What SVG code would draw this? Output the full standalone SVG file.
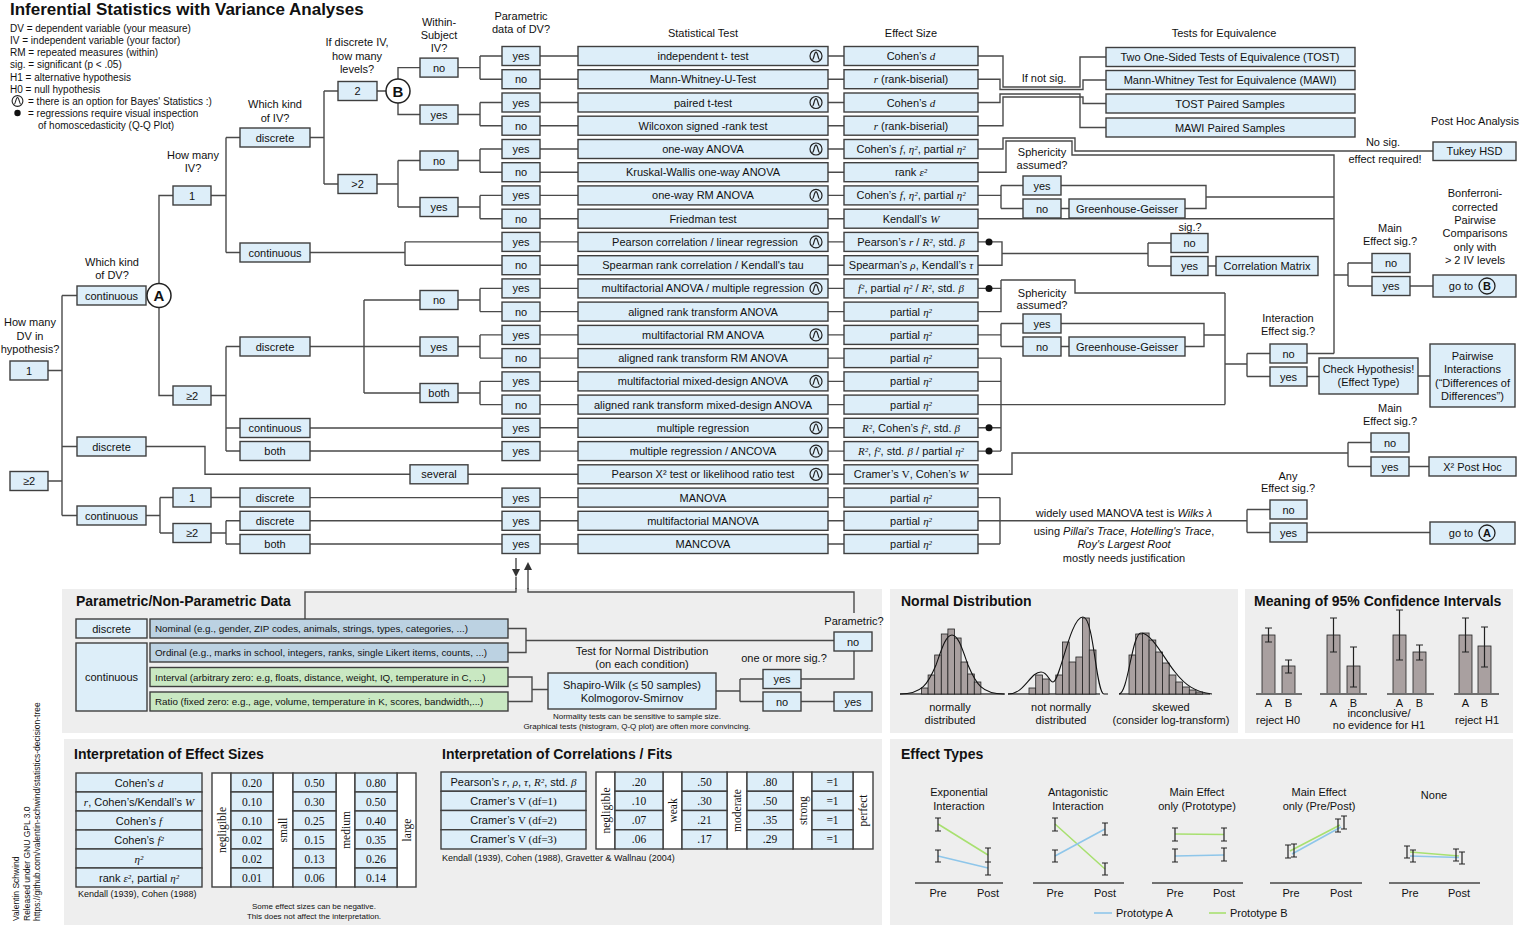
<svg xmlns="http://www.w3.org/2000/svg" width="1520" height="926" viewBox="0 0 1520 926">
<defs>
<style>
text{font-family:"Liberation Sans",Arial,sans-serif;fill:#111}
.t{font-size:11px;text-anchor:middle}
.l{font-size:10px}
.b{fill:#ddeef9;stroke:#3f3f3f;stroke-width:1.4}
.w{fill:#fff;stroke:#3f3f3f;stroke-width:1.4}
.nb{fill:#bcd2e2;stroke:#3f3f3f;stroke-width:1.4}
.gr{fill:#c9e8c2;stroke:#3f3f3f;stroke-width:1.4}
.c{fill:none;stroke:#4a4a4a;stroke-width:1.4}
.m{font-family:"Liberation Serif","Times New Roman",serif;font-style:italic}
.r,.r text{font-family:"Liberation Serif","Times New Roman",serif}
.h{font-size:14px;font-weight:bold}
.p{fill:#eeeeee}
.bar{fill:#a9a0a0;stroke:#222;stroke-width:0.8}
.ax{stroke:#707070;stroke-width:2;fill:none}
.eb{stroke:#222;stroke-width:1.2;fill:none}
.ga{stroke:#8ec6ea;stroke-width:1.6;fill:none}
.gb{stroke:#a8e070;stroke-width:1.6;fill:none}
.cv{fill:none;stroke:#111;stroke-width:1.1}
.s9{font-size:9.8px}
.cir{fill:#fff;stroke:#222;stroke-width:1.5}
.dot{fill:#111}
</style>
<g id="bay"><circle r="6" fill="none" stroke="#222" stroke-width="1.2"/><path d="M-3.6 3.6C-2.2 3.6-1.8-3.8 0-3.8S2.2 3.6 3.6 3.6" fill="none" stroke="#222" stroke-width="1.2"/></g>
</defs>
<rect width="1520" height="926" fill="#fff"/>

<g id="legend">
<text x="10" y="15" style="font-size:17px;font-weight:bold">Inferential Statistics with Variance Analyses</text>
<text class="l" x="10" y="32">DV = dependent variable (your measure)</text>
<text class="l" x="10" y="44">IV = independent variable (your factor)</text>
<text class="l" x="10" y="56">RM = repeated measures (within)</text>
<text class="l" x="10" y="68">sig. = significant (p &lt; .05)</text>
<text class="l" x="10" y="81">H1 = alternative hypothesis</text>
<text class="l" x="10" y="93">H0 = null hypothesis</text>
<use href="#bay" transform="translate(17.5 101) scale(0.9)"/>
<text class="l" x="28" y="105">= there is an option for Bayes' Statistics :)</text>
<circle class="dot" cx="17.5" cy="113" r="3.2"/>
<text class="l" x="28" y="117">= regressions require visual inspection</text>
<text class="l" x="38" y="129">of homoscedasticity (Q-Q Plot)</text>
</g>

<g id="credit" style="font-size:8.5px">
<text transform="translate(19 921) rotate(-90)">Valentin Schwind</text>
<text transform="translate(29.5 921) rotate(-90)">Released under GNU GPL 3.0</text>
<text transform="translate(40 921) rotate(-90)">https://github.com/valentin-schwind/statistics-decision-tree</text>
</g>

<g id="questions">
<text class="t" x="30" y="326">How many</text><text class="t" x="30" y="340">DV in</text><text class="t" x="30" y="353">hypothesis?</text>
<text class="t" x="112" y="266">Which kind</text><text class="t" x="112" y="279">of DV?</text>
<text class="t" x="193" y="159">How many</text><text class="t" x="193" y="172">IV?</text>
<text class="t" x="275" y="108">Which kind</text><text class="t" x="275" y="122">of IV?</text>
<text class="t" x="357" y="46">If discrete IV,</text><text class="t" x="357" y="60">how many</text><text class="t" x="357" y="73">levels?</text>
<text class="t" x="439" y="26">Within-</text><text class="t" x="439" y="39">Subject</text><text class="t" x="439" y="52">IV?</text>
<text class="t" x="521" y="20">Parametric</text><text class="t" x="521" y="33">data of DV?</text>
<text class="t" x="703" y="37">Statistical Test</text>
<text class="t" x="911" y="37">Effect Size</text>
<text class="t" x="1224" y="37">Tests for Equivalence</text>
<text class="t" x="1044" y="82">If not sig.</text>
<text class="t" x="1475" y="125">Post Hoc Analysis</text>
<text class="t" x="1383" y="146">No sig.</text><text class="t" x="1385" y="163">effect required!</text>
<text class="t" x="1042" y="156">Sphericity</text><text class="t" x="1042" y="169">assumed?</text>
<text class="t" x="1190" y="231">sig.?</text>
<text class="t" x="1390" y="232">Main</text><text class="t" x="1390" y="245">Effect sig.?</text>
<text class="t" x="1475" y="197">Bonferroni-</text><text class="t" x="1475" y="211">corrected</text><text class="t" x="1475" y="224">Pairwise</text><text class="t" x="1475" y="237">Comparisons</text><text class="t" x="1475" y="251">only with</text><text class="t" x="1475" y="264">&gt; 2 IV levels</text>
<text class="t" x="1042" y="297">Sphericity</text><text class="t" x="1042" y="309">assumed?</text>
<text class="t" x="1288" y="322">Interaction</text><text class="t" x="1288" y="335">Effect sig.?</text>
<text class="t" x="1390" y="412">Main</text><text class="t" x="1390" y="425">Effect sig.?</text>
<text class="t" x="1288" y="480">Any</text><text class="t" x="1288" y="492">Effect sig.?</text>
<text class="t" x="1124" y="517">widely used MANOVA test is <tspan font-style="italic">Wilks λ</tspan></text>
<text class="t" x="1124" y="535">using <tspan font-style="italic">Pillai's Trace</tspan>, <tspan font-style="italic">Hotelling's Trace</tspan>,</text>
<text class="t" x="1124" y="548" font-style="italic">Roy's Largest Root</text>
<text class="t" x="1124" y="562">mostly needs justification</text>
</g>

<g id="connectors" class="c">
<path d="M48 370.5H62M62 295.5V515.5M62 295.5H77M62 446.5H77M62 515.5H77M48 481H62"/>
<path d="M159 283.5V195.5H173M159 307.5V395.5H173"/>
<path d="M211 195.5H226M226 137.5V252.5M226 137.5H240M226 252.5H240"/>
<path d="M310 137.5H324M324 91V184M324 91H338M324 184H338M377 91H386"/>
<path d="M398 79V67.6H420M398 103V114.5H420M377 184H398M398 160.5V207M398 160.5H420M398 207H420"/>
<path d="M458 67.6H480M480 56V79.2M480 56H502M480 79.2H502"/>
<path d="M458 114.5H480M480 102.5V125.7M480 102.5H502M480 125.7H502"/>
<path d="M458 160.5H480M480 149V172.2M480 149H502M480 172.2H502"/>
<path d="M458 207H480M480 195.4V218.7M480 195.4H502M480 218.7H502"/>
<path d="M310 252.5H405M405 241.9V265.2M405 241.9H502M405 265.2H502"/>
<path d="M211 395.5H226M226 346.5V451M226 346.5H240M226 428H240M226 451H240"/>
<path d="M310 346.5H420M364 300V393M364 300H420M364 393H420"/>
<path d="M458 300H480M480 288.4V311.6M480 288.4H502M480 311.6H502"/>
<path d="M458 346.5H480M480 334.9V358.1M480 334.9H502M480 358.1H502"/>
<path d="M458 393H480M480 381.4V404.6M480 381.4H502M480 404.6H502"/>
<path d="M310 428H502M310 451H502"/>
<path d="M146 446.5H205V474.3H410M468 474.3H578"/>
<path d="M146 515.5H160M160 497.5V533M160 497.5H173M160 533H173M211 497.5H240M310 497.6H502"/>
<path d="M211 533H226M226 520.8V544M226 520.8H240M226 544H240M310 520.8H502M310 544H502"/>
<path d="M540 56H578M540 79.2H578M540 102.5H578M540 125.7H578M540 149H578M540 172.2H578M540 195.4H578M540 218.7H578M540 241.9H578M540 265.2H578M540 288.4H578M540 311.6H578M540 334.9H578M540 358.1H578M540 381.4H578M540 404.6H578M540 427.8H578M540 451.1H578M540 497.6H578M540 520.8H578M540 544H578"/>
<path d="M828 56H844M828 79.2H844M828 102.5H844M828 125.7H844M828 149H844M828 172.2H844M828 195.4H844M828 218.7H844M828 241.9H844M828 265.2H844M828 288.4H844M828 311.6H844M828 334.9H844M828 358.1H844M828 381.4H844M828 404.6H844M828 427.8H844M828 451.1H844M828 474.3H844M828 497.6H844M828 520.8H844M828 544H844"/>
<path d="M978 56H1003V87H1080V57H1106M978 79.2H1000V89.5H1083V80H1106M978 102.5H1000V94H1080V127.5H1106M978 125.7H1003V97H1083V103.5H1106"/>
<path d="M978 149H1003V138H1075V151H1433M978 172.2H1006V141H1072V155H1334V353.5"/>
<path d="M978 195.4H1001M1001 185.5V208.5M1001 185.5H1023M1001 208.5H1023M1061 185.5H1206V208.5H1185M1061 208.5H1069M1206 197H1334M978 218.7H1334"/>
<path d="M1334 275H1348M1348 263V286M1348 263H1372M1348 286H1372M1410 286H1433"/>
<path d="M978 241.9H1002V265.2H978M1002 253.5H1148M1148 243V266M1148 243H1171M1148 266H1171M1208 266H1216"/>
<path d="M978 288.4H1001M1001 280V311.6H978M1001 280H1075V293H1225"/>
<path d="M978 334.9H1001M1001 323.5V346.5M1001 323.5H1023M1001 346.5H1023M1061 323.5H1204V346.5H1185M1061 346.5H1069M1204 335H1225"/>
<path d="M978 358.1H1001M978 381.4H1001M978 404.6H1225M978 427.8H1001M978 451.1H1001M1001 358.1V451.1"/>
<path d="M1225 293V404.6M1225 364H1247M1247 353.5V376.5M1247 353.5H1270M1247 376.5H1270M1307 353.5H1334M1307 376.5H1319M1418 376H1430"/>
<path d="M978 474.3H1012V453H1348M1348 442.5V466.5M1348 442.5H1371M1348 466.5H1371M1409 466.5H1429"/>
<path d="M978 497.6H1000M978 520.8H1247M978 544H1000M1000 497.6V544M1247 509.5V532.5M1247 509.5H1270M1247 532.5H1270M1307 532.5H1430"/>
<path d="M516 558V569M516 577V592M528 570V592"/>
<polygon points="512,569 520,569 516,577" fill="#333" stroke="none"/>
<polygon points="524,570 532,570 528,562" fill="#333" stroke="none"/>
<circle class="dot" cx="989" cy="241.9" r="3.5" stroke="none"/>
<circle class="dot" cx="989" cy="288.4" r="3.5" stroke="none"/>
<circle class="dot" cx="989" cy="427.8" r="3.5" stroke="none"/>
<circle class="dot" cx="989" cy="451.1" r="3.5" stroke="none"/>
</g>

<g id="dv1"><rect class="b" x="10" y="361" width="38" height="19"/><text class="t" x="29" y="374.5">1</text></g>
<g id="dv2"><rect class="b" x="10" y="471.5" width="38" height="19"/><text class="t" x="29" y="485">≥2</text></g>
<g id="dvcont"><rect class="b" x="77" y="286" width="69" height="19"/><text class="t" x="111.5" y="299.5">continuous</text></g>
<g id="nodeA"><circle class="cir" cx="159" cy="295.5" r="12"/><text x="159" y="301" style="font-size:15px;font-weight:bold;text-anchor:middle">A</text></g>
<g id="dvdisc"><rect class="b" x="77" y="437" width="69" height="19"/><text class="t" x="111.5" y="450.5">discrete</text></g>
<g id="dvcont2"><rect class="b" x="77" y="506" width="69" height="19"/><text class="t" x="111.5" y="519.5">continuous</text></g>
<g id="iv1"><rect class="b" x="173" y="186" width="38" height="19"/><text class="t" x="192" y="199.5">1</text></g>
<g id="iv2"><rect class="b" x="173" y="386" width="38" height="19"/><text class="t" x="192" y="399.5">≥2</text></g>
<g id="iv1b"><rect class="b" x="173" y="488" width="38" height="19"/><text class="t" x="192" y="501.5">1</text></g>
<g id="iv2b"><rect class="b" x="173" y="523.5" width="38" height="19"/><text class="t" x="192" y="537">≥2</text></g>
<g id="k1"><rect class="b" x="240" y="128" width="70" height="19"/><text class="t" x="275" y="141.5">discrete</text></g>
<g id="k2"><rect class="b" x="240" y="243" width="70" height="19"/><text class="t" x="275" y="256.5">continuous</text></g>
<g id="k3"><rect class="b" x="240" y="337" width="70" height="19"/><text class="t" x="275" y="350.5">discrete</text></g>
<g id="k4"><rect class="b" x="240" y="418.5" width="70" height="19"/><text class="t" x="275" y="432">continuous</text></g>
<g id="k5"><rect class="b" x="240" y="441.5" width="70" height="19"/><text class="t" x="275" y="455">both</text></g>
<g id="k6"><rect class="b" x="240" y="488" width="70" height="19"/><text class="t" x="275" y="501.5">discrete</text></g>
<g id="k7"><rect class="b" x="240" y="511.3" width="70" height="19"/><text class="t" x="275" y="524.8">discrete</text></g>
<g id="k8"><rect class="b" x="240" y="534.5" width="70" height="19"/><text class="t" x="275" y="548">both</text></g>
<g id="lv2"><rect class="b" x="338" y="81.5" width="39" height="19"/><text class="t" x="357.5" y="95">2</text></g>
<g id="lv3"><rect class="b" x="338" y="174.5" width="39" height="19"/><text class="t" x="357.5" y="188">&gt;2</text></g>
<g id="nodeB"><circle class="cir" cx="398" cy="91" r="12"/><text x="398" y="96.5" style="font-size:15px;font-weight:bold;text-anchor:middle">B</text></g>
<g id="ws1"><rect class="b" x="420" y="58.1" width="38" height="19"/><text class="t" x="439" y="71.6">no</text></g>
<g id="ws2"><rect class="b" x="420" y="105" width="38" height="19"/><text class="t" x="439" y="118.5">yes</text></g>
<g id="ws3"><rect class="b" x="420" y="151" width="38" height="19"/><text class="t" x="439" y="164.5">no</text></g>
<g id="ws4"><rect class="b" x="420" y="197.5" width="38" height="19"/><text class="t" x="439" y="211">yes</text></g>
<g id="ws5"><rect class="b" x="420" y="290.5" width="38" height="19"/><text class="t" x="439" y="304">no</text></g>
<g id="ws6"><rect class="b" x="420" y="337" width="38" height="19"/><text class="t" x="439" y="350.5">yes</text></g>
<g id="ws7"><rect class="b" x="420" y="383.5" width="38" height="19"/><text class="t" x="439" y="397">both</text></g>
<g id="several"><rect class="b" x="410" y="464.8" width="58" height="19"/><text class="t" x="439" y="478.3">several</text></g>

<g id="pd0"><rect class="b" x="502" y="46.5" width="38" height="19"/><text class="t" x="521" y="60">yes</text></g>
<g id="pd1"><rect class="b" x="502" y="69.7" width="38" height="19"/><text class="t" x="521" y="83.2">no</text></g>
<g id="pd2"><rect class="b" x="502" y="93" width="38" height="19"/><text class="t" x="521" y="106.5">yes</text></g>
<g id="pd3"><rect class="b" x="502" y="116.2" width="38" height="19"/><text class="t" x="521" y="129.7">no</text></g>
<g id="pd4"><rect class="b" x="502" y="139.5" width="38" height="19"/><text class="t" x="521" y="153">yes</text></g>
<g id="pd5"><rect class="b" x="502" y="162.7" width="38" height="19"/><text class="t" x="521" y="176.2">no</text></g>
<g id="pd6"><rect class="b" x="502" y="185.9" width="38" height="19"/><text class="t" x="521" y="199.4">yes</text></g>
<g id="pd7"><rect class="b" x="502" y="209.2" width="38" height="19"/><text class="t" x="521" y="222.7">no</text></g>
<g id="pd8"><rect class="b" x="502" y="232.4" width="38" height="19"/><text class="t" x="521" y="245.9">yes</text></g>
<g id="pd9"><rect class="b" x="502" y="255.7" width="38" height="19"/><text class="t" x="521" y="269.2">no</text></g>
<g id="pd10"><rect class="b" x="502" y="278.9" width="38" height="19"/><text class="t" x="521" y="292.4">yes</text></g>
<g id="pd11"><rect class="b" x="502" y="302.1" width="38" height="19"/><text class="t" x="521" y="315.6">no</text></g>
<g id="pd12"><rect class="b" x="502" y="325.4" width="38" height="19"/><text class="t" x="521" y="338.9">yes</text></g>
<g id="pd13"><rect class="b" x="502" y="348.6" width="38" height="19"/><text class="t" x="521" y="362.1">no</text></g>
<g id="pd14"><rect class="b" x="502" y="371.9" width="38" height="19"/><text class="t" x="521" y="385.4">yes</text></g>
<g id="pd15"><rect class="b" x="502" y="395.1" width="38" height="19"/><text class="t" x="521" y="408.6">no</text></g>
<g id="pd16"><rect class="b" x="502" y="418.3" width="38" height="19"/><text class="t" x="521" y="431.8">yes</text></g>
<g id="pd17"><rect class="b" x="502" y="441.6" width="38" height="19"/><text class="t" x="521" y="455.1">yes</text></g>
<g id="pd19"><rect class="b" x="502" y="488.1" width="38" height="19"/><text class="t" x="521" y="501.6">yes</text></g>
<g id="pd20"><rect class="b" x="502" y="511.3" width="38" height="19"/><text class="t" x="521" y="524.8">yes</text></g>
<g id="pd21"><rect class="b" x="502" y="534.5" width="38" height="19"/><text class="t" x="521" y="548">yes</text></g>

<g id="st0"><rect class="b" x="578" y="46.5" width="250" height="19"/><text class="t" x="703" y="60">independent t- test</text><use href="#bay" x="816" y="56"/></g>
<g id="st1"><rect class="b" x="578" y="69.7" width="250" height="19"/><text class="t" x="703" y="83.2">Mann-Whitney-U-Test</text></g>
<g id="st2"><rect class="b" x="578" y="93" width="250" height="19"/><text class="t" x="703" y="106.5">paired t-test</text><use href="#bay" x="816" y="102.5"/></g>
<g id="st3"><rect class="b" x="578" y="116.2" width="250" height="19"/><text class="t" x="703" y="129.7">Wilcoxon signed -rank test</text></g>
<g id="st4"><rect class="b" x="578" y="139.5" width="250" height="19"/><text class="t" x="703" y="153">one-way ANOVA</text><use href="#bay" x="816" y="149"/></g>
<g id="st5"><rect class="b" x="578" y="162.7" width="250" height="19"/><text class="t" x="703" y="176.2">Kruskal-Wallis one-way ANOVA</text></g>
<g id="st6"><rect class="b" x="578" y="185.9" width="250" height="19"/><text class="t" x="703" y="199.4">one-way RM ANOVA</text><use href="#bay" x="816" y="195.4"/></g>
<g id="st7"><rect class="b" x="578" y="209.2" width="250" height="19"/><text class="t" x="703" y="222.7">Friedman test</text></g>
<g id="st8"><rect class="b" x="578" y="232.4" width="250" height="19"/><text class="t" x="705" y="245.9">Pearson correlation / linear regression</text><use href="#bay" x="816" y="241.9"/></g>
<g id="st9"><rect class="b" x="578" y="255.7" width="250" height="19"/><text class="t" x="703" y="269.2">Spearman rank correlation / Kendall's tau</text></g>
<g id="st10"><rect class="b" x="578" y="278.9" width="250" height="19"/><text class="t" x="703" y="292.4">multifactorial ANOVA / multiple regression</text><use href="#bay" x="816" y="288.4"/></g>
<g id="st11"><rect class="b" x="578" y="302.1" width="250" height="19"/><text class="t" x="703" y="315.6">aligned rank transform ANOVA</text></g>
<g id="st12"><rect class="b" x="578" y="325.4" width="250" height="19"/><text class="t" x="703" y="338.9">multifactorial RM ANOVA</text><use href="#bay" x="816" y="334.9"/></g>
<g id="st13"><rect class="b" x="578" y="348.6" width="250" height="19"/><text class="t" x="703" y="362.1">aligned rank transform RM ANOVA</text></g>
<g id="st14"><rect class="b" x="578" y="371.9" width="250" height="19"/><text class="t" x="703" y="385.4">multifactorial mixed-design ANOVA</text><use href="#bay" x="816" y="381.4"/></g>
<g id="st15"><rect class="b" x="578" y="395.1" width="250" height="19"/><text class="t" x="703" y="408.6">aligned rank transform mixed-design ANOVA</text></g>
<g id="st16"><rect class="b" x="578" y="418.3" width="250" height="19"/><text class="t" x="703" y="431.8">multiple regression</text><use href="#bay" x="816" y="427.8"/></g>
<g id="st17"><rect class="b" x="578" y="441.6" width="250" height="19"/><text class="t" x="703" y="455.1">multiple regression / ANCOVA</text><use href="#bay" x="816" y="451.1"/></g>
<g id="st18"><rect class="b" x="578" y="464.8" width="250" height="19"/><text class="t" x="703" y="478.3">Pearson X² test or likelihood ratio test</text><use href="#bay" x="816" y="474.3"/></g>
<g id="st19"><rect class="b" x="578" y="488.1" width="250" height="19"/><text class="t" x="703" y="501.6">MANOVA</text></g>
<g id="st20"><rect class="b" x="578" y="511.3" width="250" height="19"/><text class="t" x="703" y="524.8">multifactorial MANOVA</text></g>
<g id="st21"><rect class="b" x="578" y="534.5" width="250" height="19"/><text class="t" x="703" y="548">MANCOVA</text></g>

<g id="es0"><rect class="b" x="844" y="46.5" width="134" height="19"/><text class="t" x="911" y="60">Cohen’s <tspan class="m">d</tspan></text></g>
<g id="es1"><rect class="b" x="844" y="69.7" width="134" height="19"/><text class="t" x="911" y="83.2"><tspan class="m">r</tspan> (rank-biserial)</text></g>
<g id="es2"><rect class="b" x="844" y="93" width="134" height="19"/><text class="t" x="911" y="106.5">Cohen’s <tspan class="m">d</tspan></text></g>
<g id="es3"><rect class="b" x="844" y="116.2" width="134" height="19"/><text class="t" x="911" y="129.7"><tspan class="m">r</tspan> (rank-biserial)</text></g>
<g id="es4"><rect class="b" x="844" y="139.5" width="134" height="19"/><text class="t" x="911" y="153">Cohen’s <tspan class="m">f</tspan>, <tspan class="m">η²</tspan>, partial <tspan class="m">η²</tspan></text></g>
<g id="es5"><rect class="b" x="844" y="162.7" width="134" height="19"/><text class="t" x="911" y="176.2">rank <tspan class="m">ε²</tspan></text></g>
<g id="es6"><rect class="b" x="844" y="185.9" width="134" height="19"/><text class="t" x="911" y="199.4">Cohen’s <tspan class="m">f</tspan>, <tspan class="m">η²</tspan>, partial <tspan class="m">η²</tspan></text></g>
<g id="es7"><rect class="b" x="844" y="209.2" width="134" height="19"/><text class="t" x="911" y="222.7">Kendall’s <tspan class="m">W</tspan></text></g>
<g id="es8"><rect class="b" x="844" y="232.4" width="134" height="19"/><text class="t" x="911" y="245.9">Pearson’s <tspan class="m">r</tspan> / <tspan class="m">R²</tspan>, std. <tspan class="m">β</tspan></text></g>
<g id="es9"><rect class="b" x="844" y="255.7" width="134" height="19"/><text class="t" x="911" y="269.2">Spearman’s <tspan class="m">ρ</tspan>, Kendall’s <tspan class="m">τ</tspan></text></g>
<g id="es10"><rect class="b" x="844" y="278.9" width="134" height="19"/><text class="t" x="911" y="292.4"><tspan class="m">f²</tspan>, partial <tspan class="m">η²</tspan> / <tspan class="m">R²</tspan>, std. <tspan class="m">β</tspan></text></g>
<g id="es11"><rect class="b" x="844" y="302.1" width="134" height="19"/><text class="t" x="911" y="315.6">partial <tspan class="m">η²</tspan></text></g>
<g id="es12"><rect class="b" x="844" y="325.4" width="134" height="19"/><text class="t" x="911" y="338.9">partial <tspan class="m">η²</tspan></text></g>
<g id="es13"><rect class="b" x="844" y="348.6" width="134" height="19"/><text class="t" x="911" y="362.1">partial <tspan class="m">η²</tspan></text></g>
<g id="es14"><rect class="b" x="844" y="371.9" width="134" height="19"/><text class="t" x="911" y="385.4">partial <tspan class="m">η²</tspan></text></g>
<g id="es15"><rect class="b" x="844" y="395.1" width="134" height="19"/><text class="t" x="911" y="408.6">partial <tspan class="m">η²</tspan></text></g>
<g id="es16"><rect class="b" x="844" y="418.3" width="134" height="19"/><text class="t" x="911" y="431.8"><tspan class="m">R²</tspan>, Cohen’s <tspan class="m">f²</tspan>, std. <tspan class="m">β</tspan></text></g>
<g id="es17"><rect class="b" x="844" y="441.6" width="134" height="19"/><text class="t" x="911" y="455.1"><tspan class="m">R²</tspan>, <tspan class="m">f²</tspan>, std. <tspan class="m">β</tspan> / partial <tspan class="m">η²</tspan></text></g>
<g id="es18"><rect class="b" x="844" y="464.8" width="134" height="19"/><text class="t" x="911" y="478.3">Cramer’s <tspan class="r">V</tspan>, Cohen’s <tspan class="m">W</tspan></text></g>
<g id="es19"><rect class="b" x="844" y="488.1" width="134" height="19"/><text class="t" x="911" y="501.6">partial <tspan class="m">η²</tspan></text></g>
<g id="es20"><rect class="b" x="844" y="511.3" width="134" height="19"/><text class="t" x="911" y="524.8">partial <tspan class="m">η²</tspan></text></g>
<g id="es21"><rect class="b" x="844" y="534.5" width="134" height="19"/><text class="t" x="911" y="548">partial <tspan class="m">η²</tspan></text></g>

<g id="tost"><rect class="b" x="1106" y="47.5" width="249" height="19"/><text class="t" x="1230" y="61">Two One-Sided Tests of Equivalence (TOST)</text></g>
<g id="mawi"><rect class="b" x="1106" y="70.5" width="249" height="19"/><text class="t" x="1230" y="84">Mann-Whitney Test for Equivalence (MAWI)</text></g>
<g id="tostp"><rect class="b" x="1106" y="94" width="249" height="19"/><text class="t" x="1230" y="107.5">TOST Paired Samples</text></g>
<g id="mawip"><rect class="b" x="1106" y="118" width="249" height="19"/><text class="t" x="1230" y="131.5">MAWI Paired Samples</text></g>
<g id="tukey"><rect class="b" x="1433" y="142" width="83" height="18.5"/><text class="t" x="1474.5" y="155">Tukey HSD</text></g>
<g id="sph1y"><rect class="b" x="1023" y="176" width="38" height="19"/><text class="t" x="1042" y="189.5">yes</text></g>
<g id="sph1n"><rect class="b" x="1023" y="199" width="38" height="19"/><text class="t" x="1042" y="212.5">no</text></g>
<g id="gg1"><rect class="b" x="1069" y="199" width="116" height="19"/><text class="t" x="1127" y="212.5">Greenhouse-Geisser</text></g>
<g id="sign"><rect class="b" x="1171" y="233.5" width="37" height="19"/><text class="t" x="1189.5" y="247">no</text></g>
<g id="sigy"><rect class="b" x="1171" y="256.5" width="37" height="19"/><text class="t" x="1189.5" y="270">yes</text></g>
<g id="corrm"><rect class="b" x="1216" y="256.5" width="102" height="19"/><text class="t" x="1267" y="270">Correlation Matrix</text></g>
<g id="me1n"><rect class="b" x="1372" y="253.5" width="38" height="19"/><text class="t" x="1391" y="267">no</text></g>
<g id="me1y"><rect class="b" x="1372" y="276.5" width="38" height="19"/><text class="t" x="1391" y="290">yes</text></g>
<g id="gotoB"><rect class="b" x="1433" y="275" width="83" height="22"/><text class="t" x="1461" y="290">go to</text><circle cx="1487" cy="286" r="8" fill="none" stroke="#222" stroke-width="1.3"/><text x="1487" y="290" style="font-size:11px;font-weight:bold;text-anchor:middle">B</text></g>
<g id="sph2y"><rect class="b" x="1023" y="314" width="38" height="19"/><text class="t" x="1042" y="327.5">yes</text></g>
<g id="sph2n"><rect class="b" x="1023" y="337" width="38" height="19"/><text class="t" x="1042" y="350.5">no</text></g>
<g id="gg2"><rect class="b" x="1069" y="337" width="116" height="19"/><text class="t" x="1127" y="350.5">Greenhouse-Geisser</text></g>
<g id="intn"><rect class="b" x="1270" y="344" width="37" height="19"/><text class="t" x="1288.5" y="357.5">no</text></g>
<g id="inty"><rect class="b" x="1270" y="367" width="37" height="19"/><text class="t" x="1288.5" y="380.5">yes</text></g>
<g id="check"><rect class="b" x="1319" y="358" width="99" height="36"/><text class="t" x="1368.5" y="373">Check Hypothesis!</text><text class="t" x="1368.5" y="386">(Effect Type)</text></g>
<g id="pairwise"><rect class="b" x="1430" y="344" width="85" height="63"/><text class="t" x="1472.5" y="360">Pairwise</text><text class="t" x="1472.5" y="373">Interactions</text><text class="t" x="1472.5" y="387">(“Differences of</text><text class="t" x="1472.5" y="400">Differences”)</text></g>
<g id="me2n"><rect class="b" x="1371" y="433" width="38" height="19"/><text class="t" x="1390" y="446.5">no</text></g>
<g id="me2y"><rect class="b" x="1371" y="457" width="38" height="19"/><text class="t" x="1390" y="470.5">yes</text></g>
<g id="x2ph"><rect class="b" x="1429" y="457" width="87" height="19"/><text class="t" x="1472.5" y="470.5">X² Post Hoc</text></g>
<g id="anyn"><rect class="b" x="1270" y="500" width="37" height="19"/><text class="t" x="1288.5" y="513.5">no</text></g>
<g id="anyy"><rect class="b" x="1270" y="523" width="37" height="19"/><text class="t" x="1288.5" y="536.5">yes</text></g>
<g id="gotoA"><rect class="b" x="1430" y="522" width="85" height="22"/><text class="t" x="1461" y="537">go to</text><circle cx="1487" cy="533" r="8" fill="none" stroke="#222" stroke-width="1.3"/><text x="1487" y="537" style="font-size:11px;font-weight:bold;text-anchor:middle">A</text></g>

<g id="panels">
<rect class="p" x="62" y="589" width="820" height="144"/>
<rect class="p" x="890" y="589" width="348" height="144"/>
<rect class="p" x="1245" y="589" width="268" height="144"/>
<rect class="p" x="64" y="739" width="818" height="186"/>
<rect class="p" x="890" y="739" width="623" height="186"/>
</g>
<g id="panel-connectors" class="c">
<path d="M516 588V592H305V619M528 588V592H854V613"/>
<path d="M508 628.5H526V652.5H508M526 640.5H834M508 677H532V701.5H508M532 689.5H548"/>
<path d="M716 691H740M740 679V701.5M740 679H763M740 701.5H763M801 679H854V650.5M801 701.5H834"/>
</g>

<g id="param-panel">
<text class="h" x="76" y="606">Parametric/Non-Parametric Data</text>
<g id="pdisc"><rect class="b" x="76" y="619" width="71" height="19"/><text class="t" x="111.5" y="632.5">discrete</text></g>
<g id="pcont"><rect class="b" x="76" y="643" width="71" height="68"/><text class="t" x="111.5" y="681">continuous</text></g>
<g id="nominal"><rect class="nb" x="150" y="619" width="358" height="19"/><text class="s9" x="155" y="632">Nominal (e.g., gender, ZIP codes, animals, strings, types, categories, ...)</text></g>
<g id="ordinal"><rect class="nb" x="150" y="643" width="358" height="19"/><text class="s9" x="155" y="656">Ordinal (e.g., marks in school, integers, ranks, single Likert items, counts, ...)</text></g>
<g id="interval"><rect class="gr" x="150" y="667.5" width="358" height="19"/><text class="s9" x="155" y="680.5">Interval (arbitrary zero: e.g, floats, distance, weight, IQ, temperature in C, ...)</text></g>
<g id="ratio"><rect class="gr" x="150" y="692" width="358" height="19"/><text class="s9" x="155" y="705">Ratio (fixed zero: e.g., age, volume, temperature in K, scores, bandwidth,...)</text></g>
<text class="t" x="642" y="655">Test for Normal Distribution</text>
<text class="t" x="642" y="668">(on each condition)</text>
<g id="sw"><rect class="b" x="548" y="673" width="168" height="36"/><text class="t" x="632" y="689">Shapiro-Wilk (≤ 50 samples)</text><text class="t" x="632" y="702">Kolmogorov-Smirnov</text></g>
<text x="637" y="718.5" style="font-size:8px;text-anchor:middle">Normality tests can be sensitive to sample size.</text>
<text x="637" y="729" style="font-size:8px;text-anchor:middle">Graphical tests (histogram, Q-Q plot) are often more convincing.</text>
<text class="t" x="784" y="662">one or more sig.?</text>
<text class="t" x="854" y="625">Parametric?</text>
<g id="nsy"><rect class="b" x="763" y="669.5" width="38" height="19"/><text class="t" x="782" y="683">yes</text></g>
<g id="nsn"><rect class="b" x="763" y="692" width="38" height="19"/><text class="t" x="782" y="705.5">no</text></g>
<g id="parn"><rect class="b" x="834" y="632" width="38" height="19"/><text class="t" x="853" y="645.5">no</text></g>
<g id="pary"><rect class="b" x="834" y="692" width="38" height="19"/><text class="t" x="853" y="705.5">yes</text></g>
</g>

<g id="normal-panel">
<text class="h" x="901" y="606">Normal Distribution</text>
<path class="ax" d="M900 694H1005M1008 694H1100M1119 694H1210"/>
<g>
<rect class="bar" x="921.5" y="688" width="6.6" height="6"/><rect class="bar" x="928.1" y="675" width="6.6" height="19"/><rect class="bar" x="934.7" y="655" width="6.6" height="39"/><rect class="bar" x="941.3" y="634" width="6.6" height="60"/><rect class="bar" x="947.9" y="629" width="6.6" height="65"/><rect class="bar" x="954.5" y="638" width="6.6" height="56"/><rect class="bar" x="961.1" y="662" width="6.6" height="32"/><rect class="bar" x="967.7" y="674" width="6.6" height="20"/><rect class="bar" x="974.3" y="682" width="6.6" height="12"/>
</g>
<path class="cv" d="M900 694C922 694 928 684 936 665C942 648 946 635 952 635C958 635 962 648 968 665C976 684 982 694 1004 694"/>
<g>
<rect class="bar" x="1029" y="688" width="6.7" height="6"/><rect class="bar" x="1035.7" y="675" width="6.7" height="19"/><rect class="bar" x="1042.4" y="679" width="6.7" height="15"/><rect class="bar" x="1055.8" y="675" width="6.7" height="19"/><rect class="bar" x="1062.5" y="642" width="6.7" height="52"/><rect class="bar" x="1069.2" y="662" width="6.7" height="32"/><rect class="bar" x="1075.9" y="657" width="6.7" height="37"/><rect class="bar" x="1082.6" y="618" width="6.7" height="76"/><rect class="bar" x="1089.3" y="650" width="6.7" height="44"/>
</g>
<path class="cv" d="M1008 694C1025 694 1030 672 1041 672C1048 672 1049 682 1053 682C1060 682 1070 617 1083 617C1094 617 1096 694 1104 694H1108"/>
<g>
<rect class="bar" x="1129" y="655" width="6.7" height="39"/><rect class="bar" x="1135.7" y="634" width="6.7" height="60"/><rect class="bar" x="1142.4" y="633" width="6.7" height="61"/><rect class="bar" x="1149.1" y="640" width="6.7" height="54"/><rect class="bar" x="1155.8" y="652" width="6.7" height="42"/><rect class="bar" x="1162.5" y="663" width="6.7" height="31"/><rect class="bar" x="1169.2" y="675" width="6.7" height="19"/><rect class="bar" x="1175.9" y="682" width="6.7" height="12"/><rect class="bar" x="1182.6" y="687" width="6.7" height="7"/><rect class="bar" x="1189.3" y="690" width="6.7" height="4"/><rect class="bar" x="1196" y="692" width="6.7" height="2"/>
</g>
<path class="cv" d="M1119 694C1128 694 1132 633 1141 633C1152 633 1165 660 1175 672C1185 685 1195 692 1212 694"/>
<text class="t" x="950" y="711">normally</text><text class="t" x="950" y="724">distributed</text>
<text class="t" x="1061" y="711">not normally</text><text class="t" x="1061" y="724">distributed</text>
<text class="t" x="1171" y="711">skewed</text><text class="t" x="1171" y="724">(consider log-transform)</text>
</g>

<g id="ci-panel">
<text class="h" x="1254" y="606">Meaning of 95% Confidence Intervals</text>
<rect class="bar" x="1262" y="635" width="13" height="59"/><rect class="bar" x="1282" y="666" width="13" height="28"/>
<rect class="bar" x="1327" y="635" width="13" height="59"/><rect class="bar" x="1347" y="666" width="13" height="28"/>
<rect class="bar" x="1393" y="635" width="13" height="59"/><rect class="bar" x="1413" y="652" width="13" height="42"/>
<rect class="bar" x="1459" y="635" width="13" height="59"/><rect class="bar" x="1478" y="646" width="13" height="48"/>
<path class="ax" d="M1256 694H1302M1320 694H1367M1387 694H1434M1454 694H1499"/>
<path class="eb" d="M1268.5 628V642M1265 628H1272M1265 642H1272M1288.5 660V673M1285 660H1292M1285 673H1292M1333.5 618V652M1330 618H1337M1330 652H1337M1353.5 647V687M1350 647H1357M1350 687H1357M1399.5 610V660M1396 610H1403M1396 660H1403M1419.5 645V660M1416 645H1423M1416 660H1423M1465.5 618V652M1462 618H1469M1462 652H1469M1484.5 627V667M1481 627H1488M1481 667H1488"/>
<text class="t" x="1268.5" y="707">A</text><text class="t" x="1288.5" y="707">B</text>
<text class="t" x="1333.5" y="707">A</text><text class="t" x="1353.5" y="707">B</text>
<text class="t" x="1399.5" y="707">A</text><text class="t" x="1419.5" y="707">B</text>
<text class="t" x="1465.5" y="707">A</text><text class="t" x="1484.5" y="707">B</text>
<text class="t" x="1278" y="724">reject H0</text>
<text class="t" x="1379" y="717">inconclusive/</text><text class="t" x="1379" y="729">no evidence for H1</text>
<text class="t" x="1477" y="724">reject H1</text>
</g>

<g id="effect-size-table">
<text class="h" x="74" y="759">Interpretation of Effect Sizes</text>
<rect class="b" x="76" y="773" width="126" height="19"/><rect class="b" x="76" y="792" width="126" height="19"/><rect class="b" x="76" y="811" width="126" height="19"/><rect class="b" x="76" y="830" width="126" height="19"/><rect class="b" x="76" y="849" width="126" height="19"/><rect class="b" x="76" y="868" width="126" height="19"/>
<text class="t" x="139" y="786.5">Cohen’s <tspan class="m">d</tspan></text>
<text class="t" x="139" y="805.5"><tspan class="m">r</tspan>, Cohen’s/Kendall’s <tspan class="m">W</tspan></text>
<text class="t" x="139" y="824.5">Cohen’s <tspan class="m">f</tspan></text>
<text class="t" x="139" y="843.5">Cohen’s <tspan class="m">f²</tspan></text>
<text class="t" x="139" y="862.5"><tspan class="m">η²</tspan></text>
<text class="t" x="139" y="881.5">rank <tspan class="m">ε²</tspan>, partial <tspan class="m">η²</tspan></text>
<rect class="w" x="212" y="773" width="19" height="114"/><rect class="w" x="273" y="773" width="20" height="114"/><rect class="w" x="336" y="773" width="19" height="114"/><rect class="w" x="397" y="773" width="19" height="114"/>
<g class="b">
<rect x="231" y="773" width="42" height="19"/><rect x="231" y="792" width="42" height="19"/><rect x="231" y="811" width="42" height="19"/><rect x="231" y="830" width="42" height="19"/><rect x="231" y="849" width="42" height="19"/><rect x="231" y="868" width="42" height="19"/>
<rect x="293" y="773" width="43" height="19"/><rect x="293" y="792" width="43" height="19"/><rect x="293" y="811" width="43" height="19"/><rect x="293" y="830" width="43" height="19"/><rect x="293" y="849" width="43" height="19"/><rect x="293" y="868" width="43" height="19"/>
<rect x="355" y="773" width="42" height="19"/><rect x="355" y="792" width="42" height="19"/><rect x="355" y="811" width="42" height="19"/><rect x="355" y="830" width="42" height="19"/><rect x="355" y="849" width="42" height="19"/><rect x="355" y="868" width="42" height="19"/>
</g>
<g class="r" style="font-size:11.5px;text-anchor:middle">
<text x="252" y="786.5">0.20</text><text x="314.5" y="786.5">0.50</text><text x="376" y="786.5">0.80</text>
<text x="252" y="805.5">0.10</text><text x="314.5" y="805.5">0.30</text><text x="376" y="805.5">0.50</text>
<text x="252" y="824.5">0.10</text><text x="314.5" y="824.5">0.25</text><text x="376" y="824.5">0.40</text>
<text x="252" y="843.5">0.02</text><text x="314.5" y="843.5">0.15</text><text x="376" y="843.5">0.35</text>
<text x="252" y="862.5">0.02</text><text x="314.5" y="862.5">0.13</text><text x="376" y="862.5">0.26</text>
<text x="252" y="881.5">0.01</text><text x="314.5" y="881.5">0.06</text><text x="376" y="881.5">0.14</text>
<text transform="translate(225.5 830) rotate(-90)">negligible</text>
<text transform="translate(287 830) rotate(-90)">small</text>
<text transform="translate(349.5 830) rotate(-90)">medium</text>
<text transform="translate(410.5 830) rotate(-90)">large</text>
</g>
<text x="78" y="897" style="font-size:9px">Kendall (1939), Cohen (1988)</text>
<text x="314" y="909" style="font-size:8px;text-anchor:middle">Some effect sizes can be negative.</text>
<text x="314" y="919" style="font-size:8px;text-anchor:middle">This does not affect the interpretation.</text>
</g>

<g id="correlation-table">
<text class="h" x="442" y="759">Interpretation of Correlations / Fits</text>
<rect class="b" x="441" y="772" width="145" height="19.25"/><rect class="b" x="441" y="791.25" width="145" height="19.25"/><rect class="b" x="441" y="810.5" width="145" height="19.25"/><rect class="b" x="441" y="829.75" width="145" height="19.25"/>
<text class="t" x="513.5" y="785.6">Pearson’s <tspan class="m">r</tspan>, <tspan class="m">ρ</tspan>, <tspan class="m">τ</tspan>, <tspan class="m">R²</tspan>, std. <tspan class="m">β</tspan></text>
<text class="t" x="513.5" y="804.9">Cramer’s <tspan class="r">V (df=1)</tspan></text>
<text class="t" x="513.5" y="824.1">Cramer’s <tspan class="r">V (df=2)</tspan></text>
<text class="t" x="513.5" y="843.4">Cramer’s <tspan class="r">V (df=3)</tspan></text>
<rect class="w" x="596" y="772" width="19" height="77"/><rect class="w" x="663" y="772" width="19" height="77"/><rect class="w" x="727" y="772" width="20" height="77"/><rect class="w" x="793" y="772" width="19" height="77"/><rect class="w" x="853" y="772" width="20" height="77"/>
<g class="b">
<rect x="615" y="772" width="48" height="19.25"/><rect x="615" y="791.25" width="48" height="19.25"/><rect x="615" y="810.5" width="48" height="19.25"/><rect x="615" y="829.75" width="48" height="19.25"/>
<rect x="682" y="772" width="45" height="19.25"/><rect x="682" y="791.25" width="45" height="19.25"/><rect x="682" y="810.5" width="45" height="19.25"/><rect x="682" y="829.75" width="45" height="19.25"/>
<rect x="747" y="772" width="46" height="19.25"/><rect x="747" y="791.25" width="46" height="19.25"/><rect x="747" y="810.5" width="46" height="19.25"/><rect x="747" y="829.75" width="46" height="19.25"/>
<rect x="812" y="772" width="41" height="19.25"/><rect x="812" y="791.25" width="41" height="19.25"/><rect x="812" y="810.5" width="41" height="19.25"/><rect x="812" y="829.75" width="41" height="19.25"/>
</g>
<g class="r" style="font-size:11.5px;text-anchor:middle">
<text x="639" y="785.6">.20</text><text x="704.5" y="785.6">.50</text><text x="770" y="785.6">.80</text><text x="832.5" y="785.6">=1</text>
<text x="639" y="804.9">.10</text><text x="704.5" y="804.9">.30</text><text x="770" y="804.9">.50</text><text x="832.5" y="804.9">=1</text>
<text x="639" y="824.1">.07</text><text x="704.5" y="824.1">.21</text><text x="770" y="824.1">.35</text><text x="832.5" y="824.1">=1</text>
<text x="639" y="843.4">.06</text><text x="704.5" y="843.4">.17</text><text x="770" y="843.4">.29</text><text x="832.5" y="843.4">=1</text>
<text transform="translate(609.5 810.5) rotate(-90)">negligible</text>
<text transform="translate(676.5 810.5) rotate(-90)">weak</text>
<text transform="translate(741 810.5) rotate(-90)">moderate</text>
<text transform="translate(806.5 810.5) rotate(-90)">strong</text>
<text transform="translate(867 810.5) rotate(-90)">perfect</text>
</g>
<text x="442" y="861" style="font-size:9px">Kendall (1939), Cohen (1988), Gravetter &amp; Wallnau (2004)</text>
</g>

<g id="effect-types">
<text class="h" x="901" y="759">Effect Types</text>
<text class="t" x="959" y="796">Exponential</text><text class="t" x="959" y="810">Interaction</text>
<text class="t" x="1078" y="796">Antagonistic</text><text class="t" x="1078" y="810">Interaction</text>
<text class="t" x="1197" y="796">Main Effect</text><text class="t" x="1197" y="810">only (Prototype)</text>
<text class="t" x="1319" y="796">Main Effect</text><text class="t" x="1319" y="810">only (Pre/Post)</text>
<text class="t" x="1434" y="799">None</text>
<path class="ax" d="M915 883H1003M1033 883H1124M1152 883H1243M1270 883H1362M1389 883H1480"/>
<path class="gb" d="M938 824L988 855M1055 824L1105 869M1175 834L1224 834.5M1290 851L1340 825M1410 852L1459 856"/>
<path class="ga" d="M938 856L988 868M1055 856L1105 829M1175 856L1224 855M1292 854L1341 827M1410 856L1459 857.5"/>
<path class="eb" d="M938 818V831M935 818H941M935 831H941M938 850V862M935 850H941M935 862H941M988 848V862M985 848H991M985 862H991M988 862V875M985 875H991
M1055 818V831M1052 818H1058M1052 831H1058M1055 850V862M1052 850H1058M1052 862H1058M1105 823V835M1102 823H1108M1102 835H1108M1105 863V875M1102 863H1108M1102 875H1108
M1175 828V841M1172 828H1178M1172 841H1178M1224 828V841M1221 828H1227M1221 841H1227M1175 849V862M1172 849H1178M1172 862H1178M1224 848V861M1221 848H1227M1221 861H1227
M1288 845V858M1285 845H1291M1285 858H1291M1294 844V857M1291 844H1297M1291 857H1297M1338 819V832M1335 819H1341M1335 832H1341M1344 816V829M1341 816H1347M1341 829H1347
M1407 846V858M1404 846H1410M1404 858H1410M1413 850V862M1410 850H1416M1410 862H1416M1456 849V861M1453 849H1459M1453 861H1459M1462 852V864M1459 852H1465M1459 864H1465"/>
<text class="t" x="938" y="897">Pre</text><text class="t" x="988" y="897">Post</text>
<text class="t" x="1055" y="897">Pre</text><text class="t" x="1105" y="897">Post</text>
<text class="t" x="1175" y="897">Pre</text><text class="t" x="1224" y="897">Post</text>
<text class="t" x="1291" y="897">Pre</text><text class="t" x="1341" y="897">Post</text>
<text class="t" x="1410" y="897">Pre</text><text class="t" x="1459" y="897">Post</text>
<path class="ga" d="M1094 913H1112"/><text x="1116" y="917" style="font-size:11px">Prototype A</text>
<path class="gb" d="M1209 913H1226"/><text x="1230" y="917" style="font-size:11px">Prototype B</text>
</g>
</svg>
